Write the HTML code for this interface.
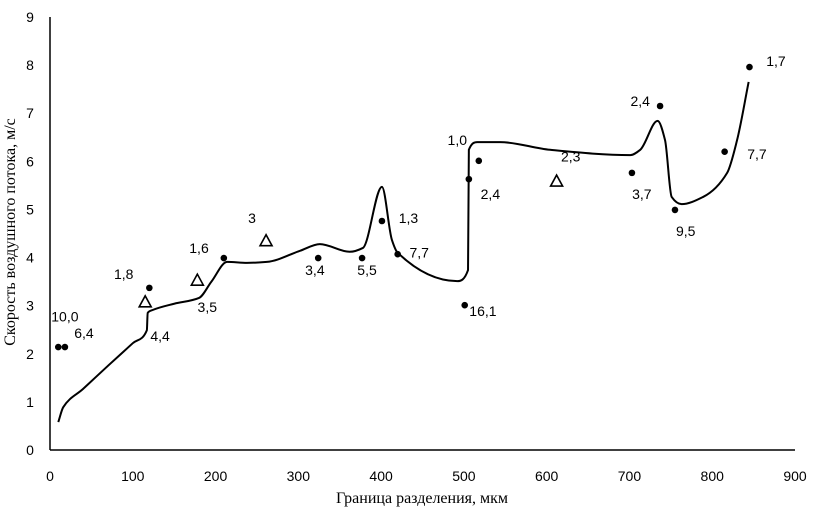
<!DOCTYPE html>
<html><head><meta charset="utf-8"><style>
body{margin:0;background:#fff}
svg{display:block}
.t{font-family:"Liberation Sans",sans-serif;font-size:14px;fill:#000}
.a{font-family:"Liberation Serif",serif;font-size:16px;fill:#000}
</style></head><body>
<svg id="c" width="825" height="512"></svg>
<script>
const xTicks=[0,100,200,300,400,500,600,700,800,900];
const yTicks=[0,1,2,3,4,5,6,7,8,9];
const dotX=[10,18,120,210,324,377,401,420,501,506,518,703,737,755,815,845];
const dotY=[2.14,2.14,3.37,3.99,3.99,3.99,4.76,4.07,3.01,5.63,6.01,5.76,7.15,4.99,6.2,7.96];
const triX=[115,178,261,612];
const triY=[3.08,3.53,4.35,5.59];
const curveX=[10,16,40,70,100,117,118,124,150,180,195,214,238,262,302,326,362,378,401,413,420,492,505,506,516,544,604,701,713,734,743,751,763,789,818,830,844];
const curveY=[0.58,0.89,1.27,1.75,2.22,2.49,2.85,2.91,3.04,3.16,3.5,3.91,3.89,3.91,4.14,4.28,4.12,4.2,5.47,4.37,4.1,3.51,3.74,6.24,6.4,6.4,6.24,6.13,6.24,6.84,6.44,5.26,5.11,5.26,5.76,6.44,7.65];
const labelText=["10,0","6,4","1,8","4,4","3,5","1,6","3","3,4","5,5","1,3","7,7","1,0","2,4","16,1","2,3","3,7","2,4","9,5","7,7","1,7"];
const labelX=[18,41,89,133,190,180,244,320,383,433,446,492,532,523,629,715,713,768,854,877];
const labelY=[2.77,2.43,3.66,2.37,2.97,4.2,4.82,3.74,3.74,4.82,4.1,6.44,5.32,2.89,6.1,5.32,7.25,4.55,6.15,8.09];
const X=v=>50+v*(745/900), Y=v=>450-v*(433/9);
const s=document.getElementById('c'),NS='http://www.w3.org/2000/svg';
function mk(t,a,p){const e=document.createElementNS(NS,t);for(const k in a)e.setAttribute(k,a[k]);(p||s).appendChild(e);return e;}
let e;
e=mk('line',{x1:50,y1:17,x2:50,y2:450,stroke:'#000','stroke-width':1.5});


e=mk('line',{x1:50,y1:450,x2:795,y2:450,stroke:'#000','stroke-width':1.5});


xTicks.forEach(v=>{e=mk('text',{x:X(v),y:481,'text-anchor':'middle',class:'t'});e.textContent=v;

});
yTicks.forEach(v=>{e=mk('text',{x:30,y:Y(v)+5,'text-anchor':'middle',class:'t'});e.textContent=v;

});
e=mk('text',{x:422,y:503,'text-anchor':'middle',class:'a'});e.textContent='Граница разделения, мкм';


e=mk('text',{x:0,y:0,'text-anchor':'middle',class:'a',transform:'translate(15,232) rotate(-90)'});e.textContent='Скорость воздушного потока, м/с';


const P=curveX.map((x,i)=>[X(x),Y(curveY[i])]);
const n=P.length,dx=[],m=[],t=[];
for(let i=0;i<n-1;i++){dx[i]=Math.max(P[i+1][0]-P[i][0],0.01);m[i]=(P[i+1][1]-P[i][1])/dx[i];}
t[0]=m[0];t[n-1]=m[n-2];
for(let i=1;i<n-1;i++){if(m[i-1]*m[i]<=0)t[i]=0;else{const w1=2*dx[i]+dx[i-1],w2=dx[i]+2*dx[i-1];t[i]=(w1+w2)/(w1/m[i-1]+w2/m[i]);}}
let d='M'+P[0][0]+','+P[0][1];
for(let i=0;i<n-1;i++){const h=dx[i]/3;
d+=` C${P[i][0]+h},${P[i][1]+t[i]*h} ${P[i+1][0]-h},${P[i+1][1]-t[i+1]*h} ${P[i+1][0]},${P[i+1][1]}`;}
e=mk('path',{d:d,fill:'none',stroke:'#000','stroke-width':2});


dotX.forEach((x,i)=>{e=mk('circle',{cx:X(x),cy:Y(dotY[i]),r:3.3,fill:'#000'});

});
triX.forEach((x,i)=>{const cx=X(x),cy=Y(triY[i]);e=mk('polygon',{points:`${cx},${cy-6} ${cx-6},${cy+5} ${cx+6},${cy+5}`,fill:'none',stroke:'#000','stroke-width':1.6});

});
labelText.forEach((t,i)=>{e=mk('text',{x:X(labelX[i]),y:Y(labelY[i])+5,'text-anchor':'middle',class:'t'});e.textContent=t;

});
</script>
</body></html>
